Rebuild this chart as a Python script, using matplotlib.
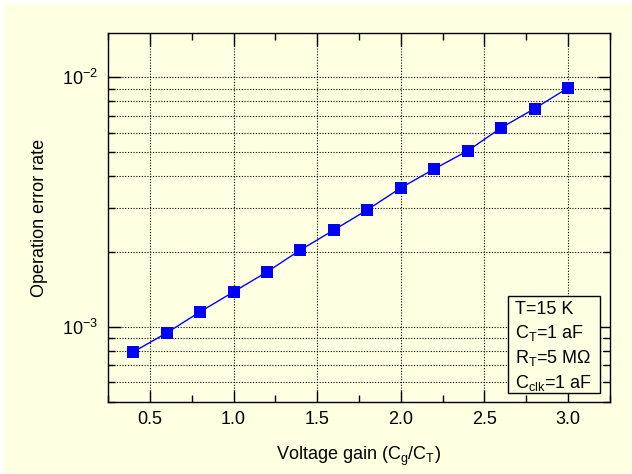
import numpy as np
import matplotlib
matplotlib.use("Agg")
import matplotlib.pyplot as plt
from matplotlib.patches import Rectangle
from matplotlib.ticker import MultipleLocator, LogLocator, NullFormatter, FormatStrFormatter

plt.rcParams['font.family'] = ['Liberation Sans', 'DejaVu Sans']
plt.rcParams['mathtext.fontset'] = 'custom'
plt.rcParams['mathtext.rm'] = 'Liberation Sans'
plt.rcParams['mathtext.it'] = 'Liberation Sans:italic'
plt.rcParams['mathtext.default'] = 'regular'

# data
gain = [0.4, 0.6, 0.8, 1.0, 1.2, 1.4, 1.6, 1.8, 2.0, 2.2, 2.4, 2.6, 2.8, 3.0]
error_rate = [7.91e-4, 9.43e-4, 1.146e-3, 1.378e-3, 1.657e-3, 2.03e-3, 2.44e-3,
              2.94e-3, 3.60e-3, 4.29e-3, 5.07e-3, 6.27e-3, 7.49e-3, 9.07e-3]
params = ["T=15 K", "$C_T$=1 aF", "$R_T$=5 M$\\Omega$", "$C_{clk}$=1 aF"]

bg = '#ffffe1'
W, H = 632, 474
fs = 13

fig = plt.figure(figsize=(W / 100, H / 100), dpi=100, facecolor='white')
# cream background, leaves the thin white strip at top/left
fig.patches.append(Rectangle((4 / W, 0), 1 - 4 / W, 1 - 4 / H, transform=fig.transFigure,
                             facecolor=bg, edgecolor='none', zorder=-10))

ax = fig.add_axes([108 / W, 1 - 401.7 / H, (610 - 108) / W, (401.7 - 33.3) / H])
ax.set_facecolor(bg)

ax.plot(gain, error_rate, color='#0000ff', lw=1.0, marker='s', ms=8,
        markeredgewidth=0, markerfacecolor='#0000ff', zorder=3)

ax.set_yscale('log')
ax.set_xlim(0.25, 3.25)
ax.set_ylim(5e-4, 1.5e-2)

ax.xaxis.set_major_locator(MultipleLocator(0.5))
ax.xaxis.set_minor_locator(MultipleLocator(0.25))
ax.xaxis.set_major_formatter(FormatStrFormatter('%.1f'))
ax.yaxis.set_major_locator(LogLocator(base=10))
ax.yaxis.set_minor_locator(LogLocator(base=10, subs=np.arange(2, 10)))
ax.yaxis.set_minor_formatter(NullFormatter())

ax.tick_params(which='both', direction='in', top=True, right=True, labelsize=fs,
               width=1.0, color='black')
ax.tick_params(which='major', length=9, pad=7)
ax.tick_params(which='minor', length=5)

# dotted grid: x major only, y major + minor
ax.grid(True, which='major', axis='x', color='black', ls=(0, (1, 1.5)), lw=0.8)
ax.grid(True, which='both', axis='y', color='black', ls=(0, (1, 1.5)), lw=0.8)

for s in ax.spines.values():
    s.set_linewidth(1.0)

ax.set_xlabel("Voltage gain ($C_g$/$C_T$)", fontsize=fs, labelpad=12)
ax.set_ylabel("Operation error rate", fontsize=fs, labelpad=10)

# parameter box in the lower right corner
ax.add_patch(Rectangle((0.796, 0.023), 0.184, 0.265, transform=ax.transAxes,
                       facecolor=bg, edgecolor='black', lw=1.0, zorder=5))
ax.text(0.811, 0.148, "\n".join(params), transform=ax.transAxes, fontsize=fs,
        ha='left', va='center', linespacing=1.33, zorder=6)

fig.savefig("out.png", dpi=100, facecolor=fig.get_facecolor())
